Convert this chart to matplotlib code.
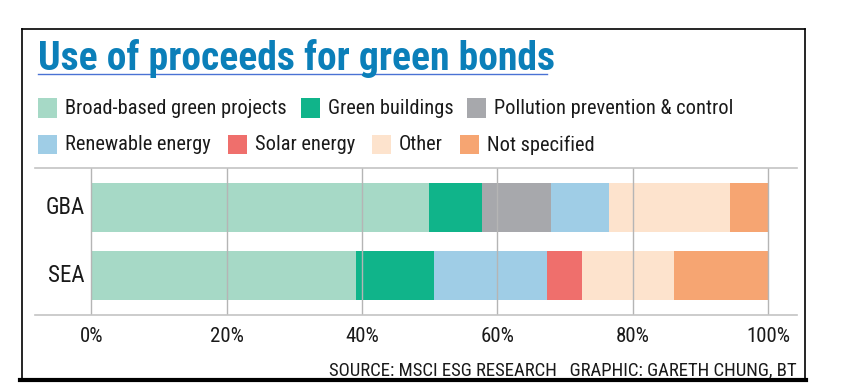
import matplotlib
matplotlib.use("Agg")
import matplotlib.pyplot as plt
from matplotlib.lines import Line2D
from matplotlib.patches import Rectangle
import numpy as np

plt.rcParams["font.family"] = ["Roboto Condensed", "Roboto", "DejaVu Sans"]

# data (% of proceeds)
regions = ["GBA", "SEA"]
categories = ["Broad-based green projects", "Green buildings", "Pollution prevention & control",
              "Renewable energy", "Solar energy", "Other", "Not specified"]
gba = [49.9, 7.9, 10.1, 8.6, 0.0, 17.9, 5.6]
sea = [39.1, 11.5, 0.0, 16.7, 5.2, 13.6, 13.9]
colors = ["#a6d9c6", "#10b48a", "#a7a8ac", "#9fcde6", "#ef6f6c", "#fde3cd", "#f6a572"]
xticks = [0, 20, 40, 60, 80, 100]

W, H = 852, 390
fig = plt.figure(figsize=(W / 100, H / 100), dpi=100)

def fx(px): return px / W
def fy(py): return 1 - py / H

# outer frame
for xs, ys, lw in [((22, 805), (29, 29), 1.2), ((22, 22), (29, 381), 1.2),
                   ((805, 805), (29, 381), 1.2), ((20, 806), (380, 380), 3.0)]:
    fig.add_artist(Line2D([fx(x) for x in xs], [fy(y) for y in ys], color="black", lw=lw))

# title + underline
fig.text(fx(38), fy(70), "Use of proceeds for green bonds", fontsize=28.5, fontweight="bold",
         color="#0b7fb9", ha="left", va="baseline")
fig.add_artist(Line2D([fx(38), fx(547)], [fy(74), fy(74)], color="#4a72d4", lw=1))

# legend, two rows laid out by measured text width
fig.canvas.draw()
rend = fig.canvas.get_renderer()
rows = [categories[:3], categories[3:]]
row_y = [108, 145]
gaps = [14, 17]
k = 0
for r, names in enumerate(rows):
    x = 38
    for name in names:
        fig.add_artist(Rectangle((fx(x), fy(row_y[r] + 9.5)), fx(19), 19 / H,
                                 facecolor=colors[k], edgecolor="none"))
        t = fig.text(fx(x + 27), fy(row_y[r]), name, fontsize=14.7, color="#1a1a1a",
                     ha="left", va="center")
        x += 27 + t.get_window_extent(rend).width + gaps[r]
        k += 1

# bars
ax = fig.add_axes([fx(35), fy(315), fx(797) - fx(35), (315 - 168) / H])
y = np.arange(len(regions))
data = np.array([gba, sea])
left = np.zeros(len(regions))
for i, c in enumerate(categories):
    ax.barh(y, data[:, i], left=left, height=0.715, color=colors[i], edgecolor="none", zorder=1)
    left += data[:, i]

ax.set_xlim(-8.3, 104.3)
ax.set_ylim(1.57, -0.577)
for v in xticks:
    ax.axvline(v, color="#b5b5b5", lw=1, zorder=2)
ax.set_xticks(xticks)
ax.set_xticklabels([f"{v}%" for v in xticks], fontsize=15, color="#1a1a1a")
ax.tick_params(axis="x", length=0, pad=9)
ax.set_yticks([])
for i, name in enumerate(regions):
    ax.text(-1.0, i, name, ha="right", va="center", fontsize=16.5, color="#1a1a1a")
for s in ["left", "right"]:
    ax.spines[s].set_visible(False)
for s in ["top", "bottom"]:
    ax.spines[s].set_color("#c4c4c4")
    ax.spines[s].set_linewidth(1.2)

fig.text(fx(797), fy(375), "SOURCE: MSCI ESG RESEARCH   GRAPHIC: GARETH CHUNG, BT",
         fontsize=13.5, color="#1a1a1a", ha="right", va="baseline")

fig.savefig("out.png", dpi=100)
